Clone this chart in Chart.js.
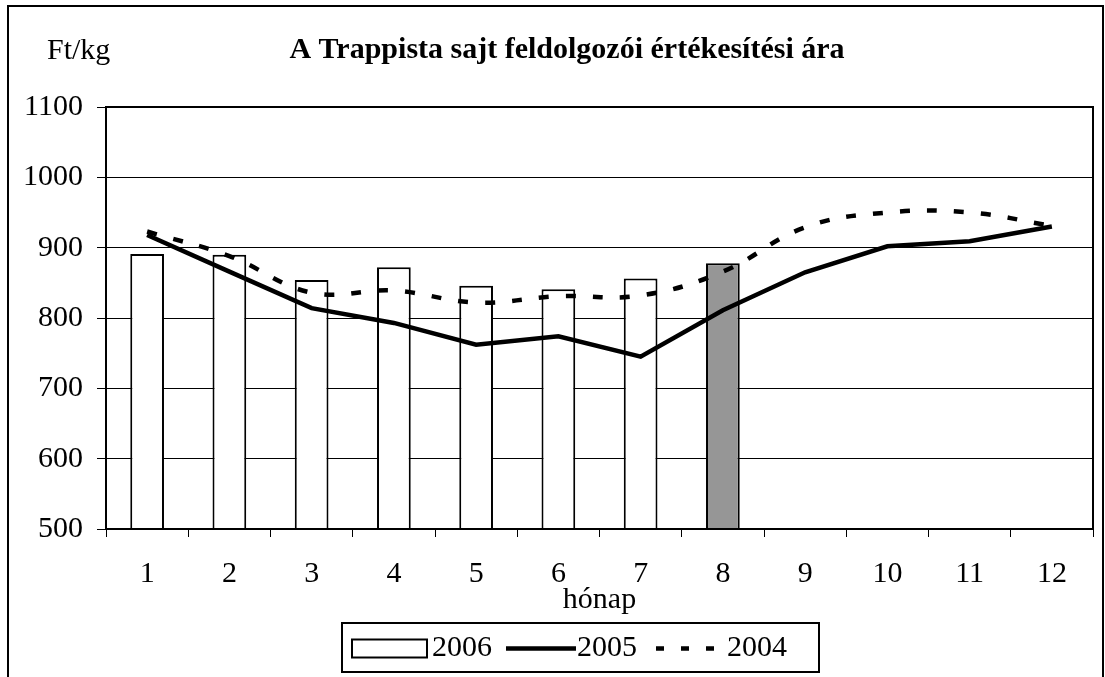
<!DOCTYPE html>
<html>
<head>
<meta charset="utf-8">
<script src="https://cdn.jsdelivr.net/npm/chart.js@4/dist/chart.umd.min.js"></script>
<style>
html,body{margin:0;padding:0;background:#fff;}
canvas{display:block;}
</style>
</head>
<body>
<canvas id="c" width="1105" height="677"></canvas>
<script>
const months = ['1','2','3','4','5','6','7','8','9','10','11','12'];
const v2006 = [891, 890, 854, 872, 846, 841, 856, 878, null, null, null, null];
const v2005 = [918, 866, 814, 793, 762, 774, 745, 811, 865, 902, 909, 930];
const v2004 = [923, 888, 836, 839, 822, 831, 832, 866, 929, 950, 950, 931];
const yTicks = [500, 600, 700, 800, 900, 1000, 1100];
const seriesNames = ['2006', '2005', '2004'];
const titleText = 'A Trappista sajt feldolgozói értékesítési ára';
const yUnit = 'Ft/kg';
const xTitle = 'hónap';

const FONT = '"Liberation Serif", "Times New Roman", serif';

const barColors = v2006.map((v, i) => i === 7 ? '#969696' : '#ffffff');

const decor = {
  id: 'decor',
  afterDraw(chart) {
    const ctx = chart.ctx;
    const a = chart.chartArea;
    ctx.save();
    ctx.strokeStyle = '#000';
    ctx.lineWidth = 2;
    ctx.strokeRect(a.left, a.top, a.right - a.left, a.bottom - a.top);
    ctx.strokeRect(8, 6, 1095, 720);
    ctx.fillStyle = '#000';
    ctx.textBaseline = 'alphabetic';
    ctx.font = 'bold 30px ' + FONT;
    ctx.textAlign = 'center';
    ctx.fillText(titleText, 567, 58);
    ctx.font = '30px ' + FONT;
    ctx.textAlign = 'left';
    ctx.fillText(yUnit, 47, 59);
    ctx.textAlign = 'center';
    ctx.fillText(xTitle, (a.left + a.right) / 2, 608);
    const lx = 342, ly = 623, lw = 477, lh = 49;
    ctx.lineWidth = 2;
    ctx.strokeRect(lx, ly, lw, lh);
    const cy = ly + lh / 2 + 1;
    ctx.fillStyle = '#fff';
    ctx.fillRect(352, cy - 9, 75, 18);
    ctx.strokeRect(352, cy - 9, 75, 18);
    ctx.fillStyle = '#000';
    ctx.textAlign = 'left';
    ctx.textBaseline = 'middle';
    ctx.font = '30px ' + FONT;
    ctx.fillText(seriesNames[0], 432, cy);
    ctx.lineWidth = 4.5;
    ctx.setLineDash([]);
    ctx.beginPath();
    ctx.moveTo(506, cy);
    ctx.lineTo(576, cy);
    ctx.stroke();
    ctx.fillText(seriesNames[1], 577, cy);
    ctx.setLineDash([8, 17]);
    ctx.beginPath();
    ctx.moveTo(656, cy);
    ctx.lineTo(726, cy);
    ctx.stroke();
    ctx.setLineDash([]);
    ctx.fillText(seriesNames[2], 727, cy);
    ctx.restore();
  }
};

new Chart(document.getElementById('c'), {
  data: {
    labels: months,
    datasets: [
      {
        type: 'line',
        label: seriesNames[2],
        data: v2004,
        borderColor: '#000',
        borderWidth: 4.5,
        borderDash: [10, 17],
        pointRadius: 0,
        tension: 0.4,
        fill: false,
        order: 1
      },
      {
        type: 'line',
        label: seriesNames[1],
        data: v2005,
        borderColor: '#000',
        borderWidth: 4.5,
        pointRadius: 0,
        tension: 0,
        fill: false,
        order: 0
      },
      {
        type: 'bar',
        label: seriesNames[0],
        data: v2006,
        backgroundColor: barColors,
        borderColor: '#000',
        borderWidth: 2,
        borderSkipped: 'start',
        barPercentage: 0.41,
        categoryPercentage: 1.0,
        order: 2
      }
    ]
  },
  options: {
    responsive: false,
    animation: false,
    devicePixelRatio: 1,
    layout: { padding: { top: 107, right: 12, left: 0, bottom: 0 } },
    plugins: {
      legend: { display: false },
      title: { display: false },
      tooltip: { enabled: false }
    },
    scales: {
      x: {
        type: 'category',
        offset: true,
        grid: {
          offset: true,
          drawOnChartArea: false,
          drawTicks: true,
          tickLength: 8,
          color: '#000',
          lineWidth: 1
        },
        border: { display: true, color: '#000', width: 2 },
        ticks: {
          color: '#000',
          font: { family: FONT, size: 30 },
          padding: 19,
          maxRotation: 0,
          autoSkip: false
        },
        afterFit(s) { s.height = 677 - 529; }
      },
      y: {
        min: 500,
        max: 1100,
        afterBuildTicks(s) { s.ticks = yTicks.map(v => ({ value: v })); },
        grid: {
          color: '#000',
          lineWidth: 1,
          drawTicks: true,
          tickLength: 9
        },
        border: { display: true, color: '#000', width: 2 },
        ticks: {
          color: '#000',
          font: { family: FONT, size: 30 },
          padding: 14,
          callback: (v) => String(v)
        },
        afterFit(s) { s.width = 106; }
      }
    }
  },
  plugins: [decor]
});
</script>
</body>
</html>
